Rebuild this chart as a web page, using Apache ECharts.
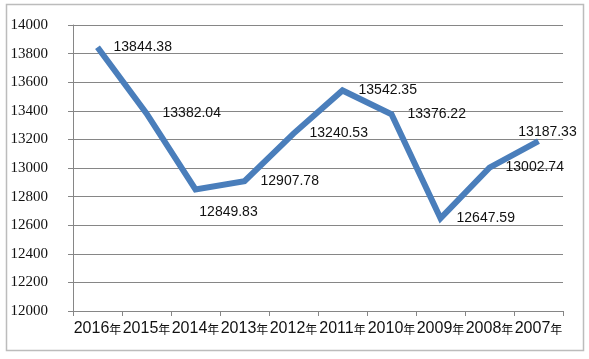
<!DOCTYPE html>
<html><head><meta charset="utf-8">
<script src="https://cdn.jsdelivr.net/npm/echarts@6/dist/echarts.min.js"></script>
<style>html,body{margin:0;padding:0;background:#fff}#c{width:589px;height:359px}</style>
</head><body><div id="c"></div>
<script>
var categories = ['2016年','2015年','2014年','2013年','2012年','2011年','2010年','2009年','2008年','2007年'];
var values = [13844.38, 13382.04, 12849.83, 12907.78, 13240.53, 13542.35, 13376.22, 12647.59, 13002.74, 13187.33];
var yTicks = [12000, 14000, 200];

var data = values.map(function (v, i) {
  var d = {value: v};
  if (i === 2) d.label = {position: 'bottom', distance: 16, offset: [33, 0]};
  if (i === 9) d.label = {position: 'top', distance: 2, offset: [9, 0]};
  return d;
});

var chart = echarts.init(document.getElementById('c'), null, {renderer: 'canvas'});
chart.setOption({
  animation: false,
  graphic: [{type: 'rect', shape: {x: 6.5, y: 4.5, width: 577, height: 346}, style: {fill: 'none', stroke: '#bcbcbc', lineWidth: 1.5}, z: -1}],
  grid: {left: 73, right: 26, top: 25, bottom: 48},
  xAxis: {
    type: 'category', data: categories, boundaryGap: true,
    axisLine: {lineStyle: {color: '#868686', width: 1}},
    axisTick: {show: true, alignWithLabel: false, length: 5, lineStyle: {color: '#868686'}},
    axisLabel: {
      interval: 0, margin: 10, color: '#111',
      formatter: function (s) { return '{d|' + s.slice(0, -1) + '}{n|' + s.slice(-1) + '}'; },
      rich: {
        d: {fontFamily: 'Liberation Sans', fontSize: 16, color: '#111'},
        n: {fontFamily: 'Noto Sans CJK SC', fontSize: 12, color: '#111'}
      }
    }
  },
  yAxis: {
    type: 'value', min: yTicks[0], max: yTicks[1], interval: yTicks[2],
    axisLine: {show: true, lineStyle: {color: '#868686', width: 1}},
    axisTick: {show: true, length: 5, lineStyle: {color: '#868686'}},
    splitLine: {lineStyle: {color: '#868686', width: 1}},
    axisLabel: {margin: 25, color: '#111', fontFamily: 'Liberation Sans Narrow', fontSize: 15,
      formatter: function (v) { return String(v); }}
  },
  series: [{
    type: 'line', data: data, symbol: 'circle', symbolSize: 0.1, showSymbol: true,
    lineStyle: {color: '#4a7ebb', width: 6, join: 'miter'},
    itemStyle: {color: '#4a7ebb'},
    label: {show: true, position: 'right', distance: 16, color: '#111', fontFamily: 'Liberation Sans', fontSize: 14,
      formatter: function (p) { return p.value.toFixed(2); }}
  }]
});
</script></body></html>
